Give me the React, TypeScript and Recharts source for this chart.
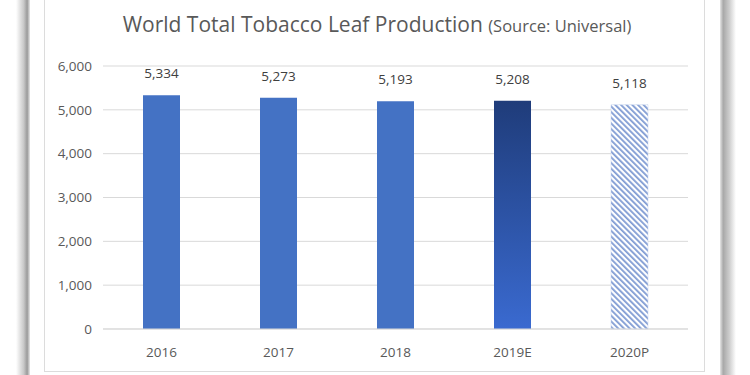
import React from "react";
import { BarChart, Bar, XAxis, YAxis, CartesianGrid, LabelList, Cell } from "recharts";

const years = ["2016", "2017", "2018", "2019E", "2020P"];
const production = [5334, 5273, 5193, 5208, 5118];
const yTicks = [0, 1000, 2000, 3000, 4000, 5000, 6000];

const data = years.map((year, i) => ({ year, value: production[i] }));

const FONT = "'Open Sans', 'Noto Sans', sans-serif";
const TXT = "#595959";

const fmt = (v: number) => v.toLocaleString("en-US");

export default function App() {
  return (
    <div style={{ position: "absolute", left: 0, top: 0, width: 750, height: 375, background: "#fff", overflow: "hidden", fontFamily: FONT }}>
      {/* paper shadow strips */}
      <div style={{ position: "absolute", left: 16, top: 0, width: 14, height: 375, background: "linear-gradient(to right, #fff, #c8c8c8 55%, #9a9a9a 80%, #e8e8e8)" }} />
      <div style={{ position: "absolute", left: 720, top: 0, width: 16, height: 375, background: "linear-gradient(to right, #e6e6e6, #a8a8a8 20%, #cfcfcf 60%, #fff)" }} />
      {/* chart area border */}
      <div style={{ position: "absolute", left: 44, top: -2, width: 661, height: 374, border: "1px solid #dcdcdc", boxSizing: "border-box" }} />
      <div style={{ position: "absolute", left: 0, top: 10, width: 754, textAlign: "center", color: TXT, whiteSpace: "nowrap" }}>
        <span style={{ fontSize: 21 }}>World Total Tobacco Leaf Production </span>
        <span style={{ fontSize: 16.5 }}>(Source: Universal)</span>
      </div>
      <div style={{ position: "absolute", left: 0, top: 0 }}>
        <BarChart width={750} height={375} data={data} margin={{ top: 66, right: 62, bottom: 16, left: 0 }} barSize={37}>
          <defs>
            <linearGradient id="grad2019" x1="0" y1="0" x2="0" y2="1">
              <stop offset="0%" stopColor="#1f3c7a" />
              <stop offset="100%" stopColor="#3a6ad0" />
            </linearGradient>
            <pattern id="hatch2020" width="4" height="4" patternUnits="userSpaceOnUse" patternTransform="rotate(-45)">
              <rect width="4" height="4" fill="#ffffff" />
              <rect width="1.8" height="4" fill="#7f9bd3" />
            </pattern>
          </defs>
          <CartesianGrid vertical={false} stroke="#d9d9d9" />
          <XAxis dataKey="year" height={30} axisLine={{ stroke: "#d9d9d9" }} tickLine={false} tick={{ fill: TXT, fontSize: 13.5, fontFamily: FONT }} tickMargin={12} />
          <YAxis domain={[0, 6000]} ticks={yTicks} width={103} axisLine={false} tickLine={false} tickFormatter={fmt} tick={{ fill: TXT, fontSize: 13.5, fontFamily: FONT }} tickMargin={5} />
          <Bar dataKey="value" isAnimationActive={false}>
            {data.map((d, i) => (
              <Cell
                key={d.year}
                fill={i === 3 ? "url(#grad2019)" : i === 4 ? "url(#hatch2020)" : "#4472c4"}
                stroke={i === 4 ? "#c5d2ec" : "none"}
                strokeWidth={i === 4 ? 0.5 : 0}
              />
            ))}
            <LabelList dataKey="value" position="top" offset={17} formatter={(v: number) => fmt(v)} style={{ fill: "#404040", fontSize: 13.5, fontFamily: FONT }} />
          </Bar>
        </BarChart>
      </div>
    </div>
  );
}
